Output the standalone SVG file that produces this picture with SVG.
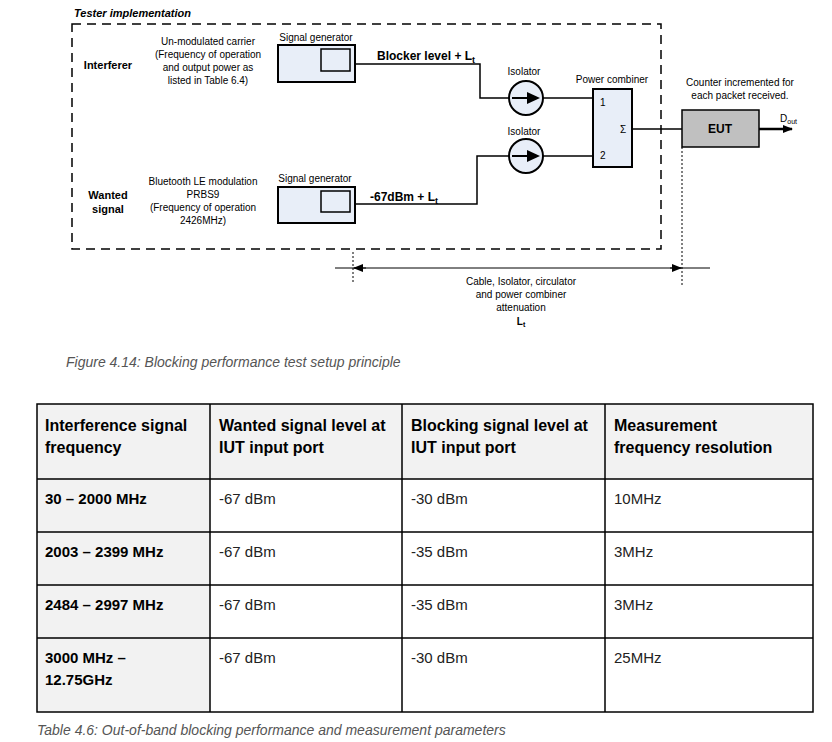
<svg xmlns="http://www.w3.org/2000/svg" width="832" height="742" viewBox="0 0 832 742">
<style>
text{font-family:"Liberation Sans",Arial,sans-serif;fill:#000}
.s{font-size:10px}.c{text-anchor:middle}.b{font-weight:bold}
.box{fill:#e8eef8;stroke:#000;stroke-width:2}
.w{fill:none;stroke:#000;stroke-width:1.5}
.th{font-size:16px;font-weight:bold}.td{font-size:15px;fill:#222}
.cap{font-size:14px;font-style:italic;fill:#555}
.g{stroke:#000;stroke-width:1.5}
</style>
<defs>
<marker id="ah" markerWidth="10" markerHeight="8" refX="9" refY="4" orient="auto" markerUnits="userSpaceOnUse"><path d="M0,0L10,4L0,8z" fill="#000"/></marker>
</defs>
<rect width="832" height="742" fill="#fff"/>
<text x="74" y="17" class="b" style="font-size:11px;font-style:italic">Tester implementation</text>
<rect x="72" y="24" width="589" height="225" fill="none" stroke="#000" stroke-width="1.5" stroke-dasharray="9,6"/>
<g id="connectors">
<path class="w" d="M355,64H480V98H509"/>
<path class="w" d="M355,204H477V156H509"/>
<path class="w" d="M543,98H593"/>
<path class="w" d="M543,156H593"/>
<path class="w" d="M632,129H682"/>
<path d="M759,129H792" stroke="#000" stroke-width="2.5" marker-end="url(#ah)"/>
<line x1="353" y1="252" x2="353" y2="282" stroke="#000" stroke-dasharray="2,2"/>
<line x1="682" y1="147" x2="682" y2="287" stroke="#000" stroke-dasharray="2,2"/>
<line x1="335" y1="268" x2="710" y2="268" stroke="#000"/>
<path d="M366,268L354,268" stroke="#000" marker-end="url(#ah)"/>
<path d="M670,268L681,268" stroke="#000" marker-end="url(#ah)"/>
</g>
<text x="377" y="60" class="b" style="font-size:12px">Blocker level + L<tspan dy="3" font-size="9">t</tspan></text>
<text x="370" y="201" class="b" style="font-size:12px">-67dBm + L<tspan dy="3" font-size="9">t</tspan></text>
<g id="interferer">
<text x="108" y="69" class="c b" style="font-size:11px">Interferer</text>
<text x="208" y="45" class="s c">Un-modulated carrier</text>
<text x="208" y="58" class="s c">(Frequency of operation</text>
<text x="208" y="71" class="s c">and output power as</text>
<text x="208" y="84" class="s c">listed in Table 6.4)</text>
</g>
<g id="wanted">
<text x="108" y="199" class="c b" style="font-size:11px">Wanted</text>
<text x="108" y="213" class="c b" style="font-size:11px">signal</text>
<text x="203" y="185" class="s c">Bluetooth LE modulation</text>
<text x="203" y="198" class="s c">PRBS9</text>
<text x="203" y="211" class="s c">(Frequency of operation</text>
<text x="203" y="224" class="s c">2426MHz)</text>
</g>
<g id="gen1"><text x="316" y="41" class="s c">Signal generator</text>
<rect x="278" y="45" width="77" height="37" class="box"/><rect x="321" y="49" width="29" height="22" fill="none" stroke="#000" stroke-width="1.5"/></g>
<g id="gen2"><text x="315" y="182" class="s c">Signal generator</text>
<rect x="278" y="187" width="77" height="36" class="box"/><rect x="321" y="191" width="29" height="21" fill="none" stroke="#000" stroke-width="1.5"/></g>
<g id="iso1"><text x="524" y="75" class="s c">Isolator</text>
<circle cx="526" cy="98" r="17" class="box" stroke-width="1.5"/><path d="M512,98H528" stroke="#000" stroke-width="2"/><path d="M527,92L540,98L527,104z"/></g>
<g id="iso2"><text x="524" y="135" class="s c">Isolator</text>
<circle cx="526" cy="156" r="17" class="box" stroke-width="1.5"/><path d="M512,156H528" stroke="#000" stroke-width="2"/><path d="M527,150L540,156L527,162z"/></g>
<g id="combiner"><text x="612" y="83" class="s c">Power combiner</text>
<rect x="593" y="89" width="39" height="78" class="box" stroke-width="1.5"/>
<text x="600" y="106" class="s">1</text><text x="600" y="159" class="s">2</text>
<text x="620" y="133" class="s">Σ</text></g>
<g id="eut"><text x="740" y="86" class="s c">Counter incremented for</text><text x="740" y="99" class="s c">each packet received.</text>
<rect x="682" y="110" width="77" height="37" fill="#c0c0c0" stroke="#000" stroke-width="1.5"/>
<text x="720" y="133" class="c b" style="font-size:12px">EUT</text>
<text x="780" y="122" class="s">D<tspan font-size="7" dy="2">out</tspan></text></g>
<g id="att"><text x="521" y="285" class="s c">Cable, Isolator, circulator</text><text x="521" y="298" class="s c">and power combiner</text><text x="521" y="311" class="s c">attenuation</text><text x="521" y="325" class="s c b">L<tspan font-size="7" dy="2">t</tspan></text></g>
<text x="66" y="367" class="cap">Figure 4.14: Blocking performance test setup principle</text>
<g id="table">
<rect x="37" y="404" width="776" height="75" fill="#f2f2f2"/>
<rect x="37" y="479" width="173" height="233" fill="#f2f2f2"/>
<rect x="37" y="404" width="776" height="308" fill="none" class="g"/>
<path class="g" d="M210,404V712M402,404V712M605,404V712M37,479H813M37,532H813M37,585H813M37,638H813"/>
<text x="45" y="431" class="th">Interference signal</text><text x="45" y="453" class="th">frequency</text>
<text x="219" y="431" class="th">Wanted signal level at</text><text x="219" y="453" class="th">IUT input port</text>
<text x="411" y="431" class="th">Blocking signal level at</text><text x="411" y="453" class="th">IUT input port</text>
<text x="614" y="431" class="th">Measurement</text><text x="614" y="453" class="th">frequency resolution</text>
<text x="45" y="504" class="td b" style="fill:#000">30 – 2000 MHz</text><text x="219" y="504" class="td">-67 dBm</text><text x="411" y="504" class="td">-30 dBm</text><text x="614" y="504" class="td">10MHz</text>
<text x="45" y="557" class="td b" style="fill:#000">2003 – 2399 MHz</text><text x="219" y="557" class="td">-67 dBm</text><text x="411" y="557" class="td">-35 dBm</text><text x="614" y="557" class="td">3MHz</text>
<text x="45" y="610" class="td b" style="fill:#000">2484 – 2997 MHz</text><text x="219" y="610" class="td">-67 dBm</text><text x="411" y="610" class="td">-35 dBm</text><text x="614" y="610" class="td">3MHz</text>
<text x="45" y="663" class="td b" style="fill:#000">3000 MHz –</text><text x="45" y="685" class="td b" style="fill:#000">12.75GHz</text><text x="219" y="663" class="td">-67 dBm</text><text x="411" y="663" class="td">-30 dBm</text><text x="614" y="663" class="td">25MHz</text>
</g>
<text x="37" y="735" class="cap">Table 4.6: Out-of-band blocking performance and measurement parameters</text>
</svg>
